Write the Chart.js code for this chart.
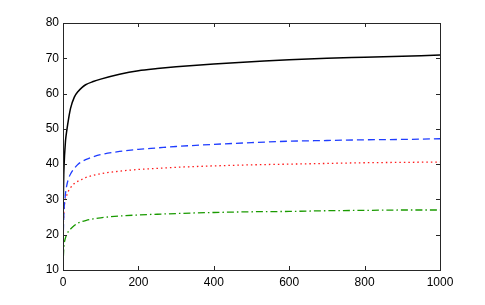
<!DOCTYPE html>
<html>
<head>
<meta charset="utf-8">
<script src="https://cdn.jsdelivr.net/npm/chart.js@4/dist/chart.umd.min.js"></script>
<style>
  body { margin: 0; background: #fff; }
  #wrap { width: 485px; height: 305px; position: relative; }
</style>
</head>
<body>
<div id="wrap"><canvas id="plot"></canvas></div>
<script>
// values
const xs = [1, 2, 3, 4, 5, 7, 10, 15, 20, 30, 40, 50, 60, 80, 100, 150, 200, 250, 300, 400, 500, 600, 700, 800, 900, 1000];
const blackSeries = [31, 37, 40, 42.3, 44, 47, 49.5, 53, 55.8, 59, 60.6, 61.7, 62.5, 63.4, 64.1, 65.5, 66.5, 67.1, 67.6, 68.4, 69.0, 69.6, 70.0, 70.3, 70.6, 70.9];
const blueSeries  = [21, 25, 27.5, 29, 30, 32, 34, 36, 37.2, 38.8, 40, 40.7, 41.3, 42.1, 42.7, 43.6, 44.2, 44.6, 45.0, 45.6, 46.1, 46.5, 46.7, 46.9, 47.0, 47.2];
const redSeries   = [23.5, 26, 27.5, 28.6, 29.5, 30.5, 31.2, 32.5, 33.3, 34.5, 35.2, 35.7, 36.2, 36.8, 37.3, 38.0, 38.5, 38.8, 39.1, 39.5, 39.8, 40.0, 40.2, 40.4, 40.5, 40.6];
const greenSeries = [13.8, 16, 17.2, 18.0, 18.5, 19.3, 20.1, 21.0, 21.6, 22.6, 23.3, 23.7, 24.0, 24.5, 24.8, 25.3, 25.6, 25.8, 26.0, 26.3, 26.5, 26.6, 26.8, 26.9, 27.0, 27.0];
const xTicks = [0, 200, 400, 600, 800, 1000];
const yTicks = [10, 20, 30, 40, 50, 60, 70, 80];

const toPoints = (vals) => xs.map((x, i) => ({ x: x, y: vals[i] }));

// box round the axes with inward tick marks, like the original
const boxPlugin = {
    id: 'box',
    afterDatasetsDraw(chart) {
        const ctx = chart.ctx;
        const a = chart.chartArea;
        const sx = chart.scales.x, sy = chart.scales.y;
        const tl = 4;
        ctx.save();
        ctx.strokeStyle = '#262626';
        ctx.lineWidth = 1;
        ctx.strokeRect(Math.round(a.left) + 0.5, Math.round(a.top) + 0.5,
                       Math.round(a.right - a.left), Math.round(a.bottom - a.top));
        ctx.beginPath();
        sx.ticks.forEach(t => {
            const px = Math.round(sx.getPixelForValue(t.value)) + 0.5;
            ctx.moveTo(px, a.bottom); ctx.lineTo(px, a.bottom - tl);
            ctx.moveTo(px, a.top); ctx.lineTo(px, a.top + tl);
        });
        sy.ticks.forEach(t => {
            const py = Math.round(sy.getPixelForValue(t.value)) + 0.5;
            ctx.moveTo(a.left, py); ctx.lineTo(a.left + tl, py);
            ctx.moveTo(a.right, py); ctx.lineTo(a.right - tl, py);
        });
        ctx.stroke();
        ctx.restore();
    }
};

const font = { family: '"Liberation Sans", Arial, sans-serif', size: 12 };

new Chart(document.getElementById('plot'), {
    type: 'line',
    data: {
        datasets: [
            { data: toPoints(blackSeries), borderColor: '#000000', borderWidth: 1.5 },
            { data: toPoints(blueSeries), borderColor: '#1f3dff', borderWidth: 1.3, borderDash: [7, 4] },
            { data: toPoints(redSeries), borderColor: '#ff1a1a', borderWidth: 1.3, borderDash: [1.5, 3] },
            { data: toPoints(greenSeries), borderColor: '#1a9a00', borderWidth: 1.3, borderDash: [7, 3, 1.5, 3] }
        ]
    },
    options: {
        responsive: true,
        maintainAspectRatio: false,
        animation: false,
        layout: { padding: { top: 23, right: 45, left: 0, bottom: 0 } },
        elements: {
            point: { radius: 0 },
            line: { cubicInterpolationMode: 'monotone', fill: false }
        },
        plugins: { legend: { display: false }, tooltip: { enabled: false } },
        scales: {
            x: {
                type: 'linear',
                min: 0, max: 1000,
                afterBuildTicks: (s) => { s.ticks = xTicks.map(v => ({ value: v })); },
                afterFit: (s) => { s.height = 35; },
                grid: { display: false, drawTicks: false },
                border: { display: false },
                ticks: { color: '#000', font: font, padding: 5, maxRotation: 0, callback: (v) => String(v) }
            },
            y: {
                min: 10, max: 80,
                afterBuildTicks: (s) => { s.ticks = yTicks.map(v => ({ value: v })); },
                afterFit: (s) => { s.width = 63; },
                grid: { display: false, drawTicks: false },
                border: { display: false },
                ticks: { color: '#000', font: font, padding: 4, callback: (v) => String(v) }
            }
        }
    },
    plugins: [boxPlugin]
});
</script>
</body>
</html>
